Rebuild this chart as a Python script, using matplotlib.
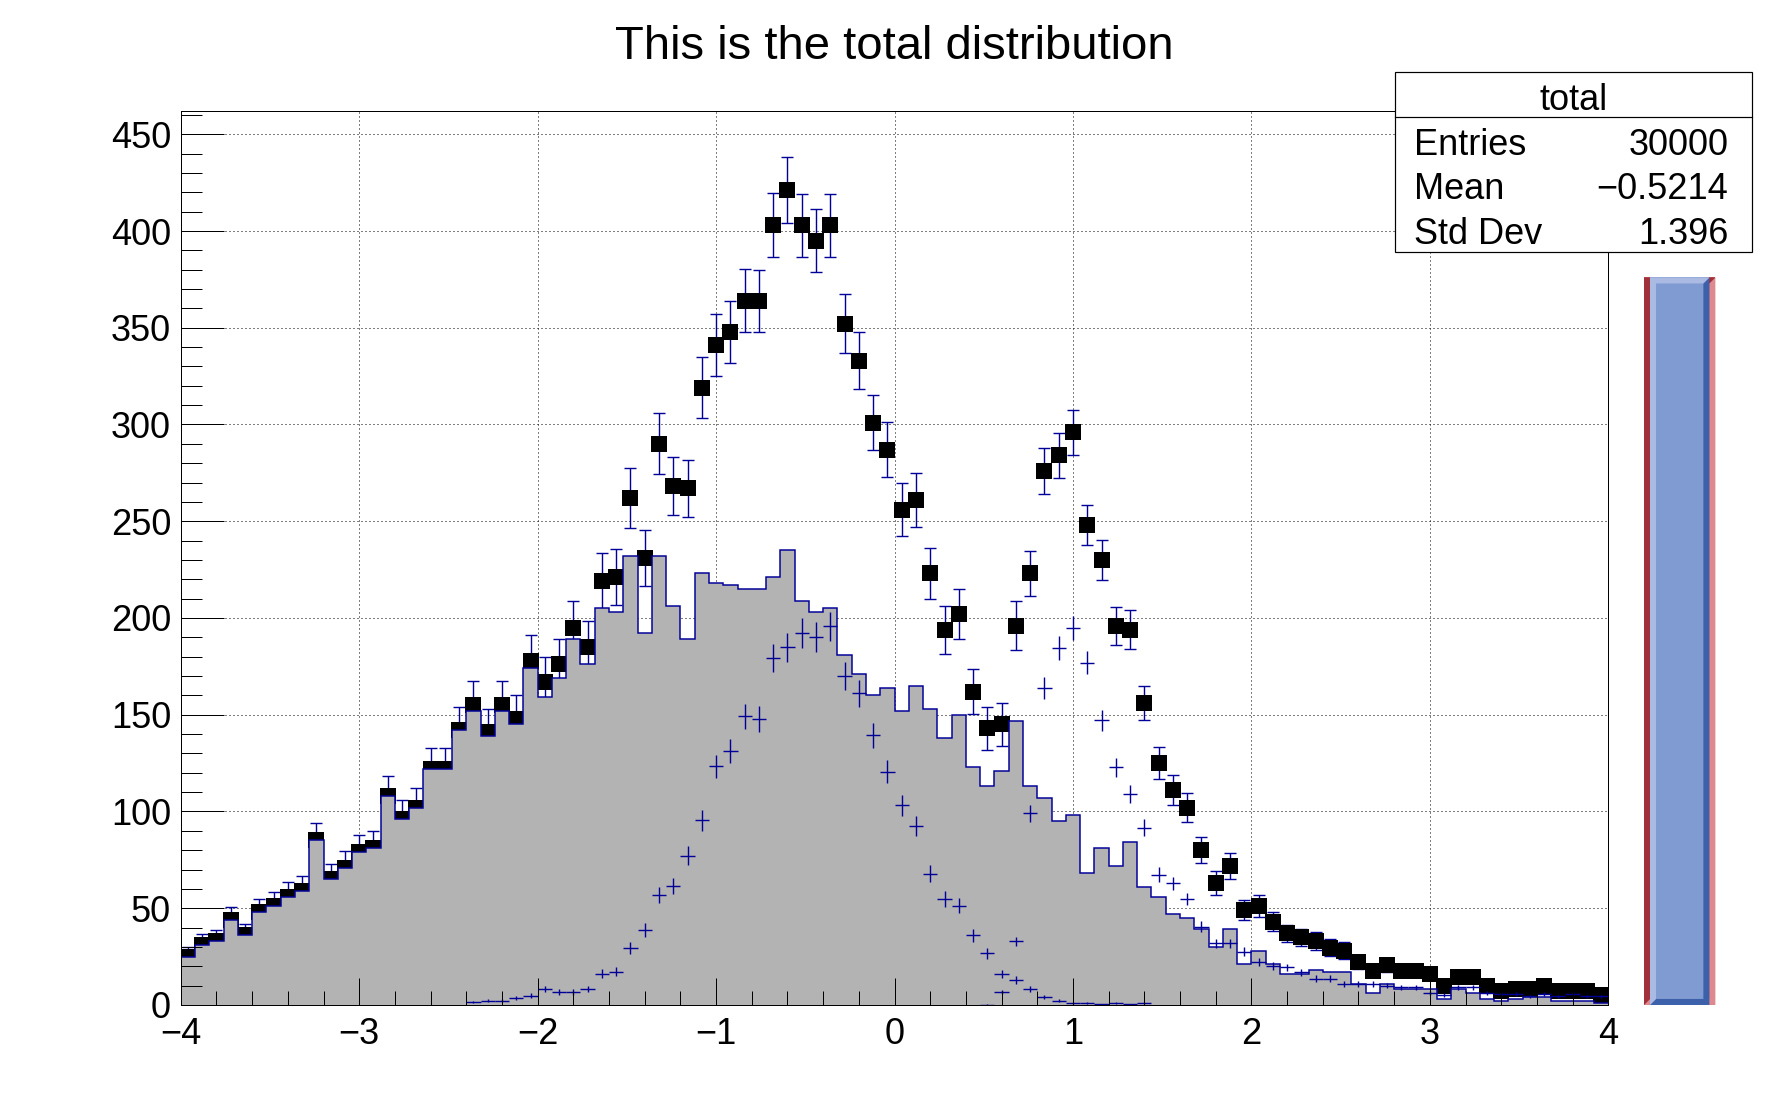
"""
Recreate the ROOT hsum-style figure: total distribution with main/s1/s2 parts.
"""
import numpy as np
import matplotlib.pyplot as plt
from matplotlib.patches import Rectangle, Polygon
from matplotlib.ticker import MultipleLocator

plt.rcParams['font.family'] = ['Liberation Sans', 'DejaVu Sans']

OUT = "out.png"

# histogram definition: 100 bins from -4 to 4
NBINS = 100
XMIN, XMAX = -4.0, 4.0
YMAX = 462

# gray background histogram ("main")
main_counts = [
    25, 31, 33, 44, 36, 48, 51, 56, 59, 85,
    65, 71, 79, 81, 108, 96, 102, 122, 122, 142,
    152, 139, 152, 145, 174, 159, 169, 189, 176, 205,
    203, 232, 192, 232, 206, 189, 223, 218, 217, 215,
    215, 221, 235, 209, 203, 205, 181, 171, 160, 164,
    152, 165, 153, 138, 150, 123, 113, 121, 147, 113,
    107, 95, 98, 68, 81, 72, 84, 61, 56, 47,
    45, 39, 30, 39, 21, 28, 21, 16, 16, 18,
    17, 17, 11, 6, 11, 8, 8, 8, 3, 8,
    6, 3, 2, 3, 4, 4, 2, 2, 2, 1,
]

# gaussian signal (weight 0.3 per entry)
s1_counts = [0] * 20 + [
    1.5, 2.1, 2.1, 3.6, 4.8, 8.1, 6.6, 6.6, 8.1, 16.2,
    17.1, 29.4, 38.7, 57.0, 61.5, 77.1, 95.4, 123.3, 131.1, 149.1,
    147.6, 179.4, 184.8, 192.3, 190.2, 195.6, 170.1, 161.1, 139.5, 120.6,
    103.2, 92.4, 67.8, 54.9, 51.3, 36.0, 26.7, 15.9, 12.9, 8.1,
    4.2, 2.1, 0.9, 0.9, 0.3, 0.9, 0.3, 0.9,
] + [0] * 32

# landau signal (weight 0.2 per entry)
s2_counts = [0] * 56 + [
    0.2, 6.6, 32.8, 99.0,
    164.0, 184.4, 195.0, 176.8, 147.2, 122.8, 108.8, 91.6, 67.4, 62.8,
    54.8, 40.4, 31.8, 31.8, 27.4, 22.4, 20.0, 19.4, 16.8, 13.6,
    13.6, 11.0, 11.0, 11.0, 10.0, 9.2, 9.2, 6.0, 5.0, 9.2,
    9.2, 6.0, 5.6, 5.6, 4.4, 5.6, 4.4, 5.6, 4.4, 4.4,
]

# total histogram (black squares)
total_counts = [
    25, 31, 33, 44, 36, 48, 51, 56, 59, 85,
    65, 71, 79, 81, 108, 96, 102, 122, 122, 142,
    155, 141, 155, 148, 178, 167, 176, 195, 185, 219,
    221, 262, 231, 290, 268, 267, 319, 341, 348, 364,
    364, 403, 421, 403, 395, 403, 352, 333, 301, 287,
    256, 261, 223, 194, 202, 162, 143, 145, 196, 223,
    276, 284, 296, 248, 230, 196, 194, 156, 125, 111,
    102, 80, 63, 72, 49, 51, 43, 37, 35, 33,
    29.5, 28, 22, 17.4, 20.6, 17.4, 17.4, 15.8, 10, 14.4,
    14.4, 10, 7, 8.4, 8.4, 10, 7, 7, 7, 5.2,
]

W1, W2 = 0.3, 0.2  # fill weights of s1 and s2

title = "This is the total distribution"
stats_name = "total"
stats_rows = [("Entries", "30000"), ("Mean", "\u22120.5214"), ("Std Dev", "1.396")]

# slider drawn right of the frame (ROOT TSlider, in pad coordinates)
SLIDER_X = (4.2, 4.6)
SLIDER_TOP = 376

BLUE = "#000099"
GRAY = "#b3b3b3"
PX = 0.72  # one pixel in points at dpi 100


def bevel(ax, x0, x1, y0, y1, bx, by, tl, br, face=None, z=6):
    if face is not None:
        ax.add_patch(Rectangle((x0, y0), x1 - x0, y1 - y0, facecolor=face,
                               edgecolor="none", clip_on=False, zorder=z))
    light = [(x0, y0), (x0, y1), (x1, y1), (x1 - bx, y1 - by),
             (x0 + bx, y1 - by), (x0 + bx, y0 + by)]
    dark = [(x0, y0), (x1, y0), (x1, y1), (x1 - bx, y1 - by),
            (x1 - bx, y0 + by), (x0 + bx, y0 + by)]
    ax.add_patch(Polygon(dark, closed=True, facecolor=br, edgecolor="none",
                         clip_on=False, zorder=z + 0.1))
    ax.add_patch(Polygon(light, closed=True, facecolor=tl, edgecolor="none",
                         clip_on=False, zorder=z + 0.2))


def main():
    edges = np.linspace(XMIN, XMAX, NBINS + 1)
    centers = 0.5 * (edges[:-1] + edges[1:])
    half = 0.5 * (edges[1] - edges[0])

    m = np.array(main_counts, float)
    s1 = np.array(s1_counts, float)
    s2 = np.array(s2_counts, float)
    tot = np.array(total_counts, float)
    # sqrt(sum of w^2) errors as ROOT stores them
    tot_err = np.sqrt(m + W1 * s1 + W2 * s2)
    s1_err = np.sqrt(W1 * s1)
    s2_err = np.sqrt(W2 * s2)

    fig = plt.figure(figsize=(17.88, 11.16), dpi=100)
    ax = fig.add_axes([0.1011, 0.0995, 0.7984, 0.801])
    ax.set_xlim(XMIN, XMAX)
    ax.set_ylim(0, YMAX)

    # grid under everything
    for xv in range(-3, 4):
        ax.axvline(xv, color="black", lw=PX, ls=(0, (1, 3)), zorder=0.5)
    for yv in range(50, 451, 50):
        ax.axhline(yv, color="black", lw=PX, ls=(0, (1, 3)), zorder=0.5)

    # total with e1p
    ax.errorbar(centers, tot, yerr=tot_err, fmt="none", ecolor=BLUE,
                elinewidth=1.4 * PX, capsize=4.6, capthick=1.4 * PX, zorder=2)
    ax.plot(centers, tot, "s", color="black", ms=12, mew=0, zorder=2.1)

    # main drawn "same" on top
    ax.stairs(m, edges, fill=True, color=GRAY, lw=0, zorder=3)
    ax.stairs(m, edges, baseline=None, color=BLUE, lw=1.5 * PX, zorder=3.1)

    # s1 and s2 as crosses
    for vals, errs in ((s1, s1_err), (s2, s2_err)):
        keep = vals > 0
        ax.errorbar(centers[keep], vals[keep], xerr=half, yerr=errs[keep],
                    fmt="none", ecolor=BLUE, elinewidth=1.4 * PX, capsize=0,
                    zorder=4)

    # axes styling
    ax.xaxis.set_major_locator(MultipleLocator(1))
    ax.xaxis.set_minor_locator(MultipleLocator(0.2))
    ax.yaxis.set_major_locator(MultipleLocator(50))
    ax.yaxis.set_minor_locator(MultipleLocator(10))
    ax.tick_params(axis="both", which="both", direction="in", width=PX,
                   top=False, right=False, labelsize=26)
    ax.tick_params(axis="y", which="major", length=31, pad=7)
    ax.tick_params(axis="y", which="minor", length=15)
    ax.tick_params(axis="x", which="major", length=19.5, pad=9)
    ax.tick_params(axis="x", which="minor", length=10)
    for sp in ax.spines.values():
        sp.set_linewidth(PX)
        sp.set_zorder(10)
    ax.xaxis.set_zorder(10)
    ax.yaxis.set_zorder(10)

    fig.text(0.5003, 0.947, title, ha="center", va="baseline", fontsize=34)

    # stats box
    bx0, bx1, by0, by1 = 0.780, 0.980, 0.7742, 0.9355
    fig.patches.append(Rectangle((bx0, by0), bx1 - bx0, by1 - by0,
                                 transform=fig.transFigure, facecolor="white",
                                 edgecolor="black", lw=1.2 * PX, zorder=20))
    fig.lines.append(plt.Line2D([bx0, bx1], [0.8952, 0.8952],
                                transform=fig.transFigure, color="black",
                                lw=1.2 * PX, zorder=21))
    fig.text(0.880, 0.9014, stats_name, ha="center", va="baseline",
             fontsize=26, zorder=22)
    for (lab, val), yb in zip(stats_rows, (0.8611, 0.8214, 0.7811)):
        fig.text(0.7908, yb, lab, ha="left", va="baseline", fontsize=26,
                 zorder=22)
        fig.text(0.9666, yb, val, ha="right", va="baseline", fontsize=26,
                 zorder=22)

    # slider: sunken red pad with a raised blue box inside
    px_x = (XMAX - XMIN) / (0.7984 * 1788)
    px_y = YMAX / (0.801 * 1116)
    sx0, sx1 = SLIDER_X
    bevel(ax, sx0, sx1, 0, SLIDER_TOP, 6 * px_x, 6 * px_y,
          tl="#a0303a", br="#de8890", face="#cf5e61", z=6)
    bevel(ax, sx0 + 6 * px_x, sx1 - 6 * px_x, 0, SLIDER_TOP,
          6 * px_x, 6 * px_y, tl="#aabae2", br="#3c60aa", face="#7f9bd1", z=7)

    fig.savefig(OUT, dpi=100)
    plt.close(fig)
    print(f"Wrote {OUT}")


if __name__ == "__main__":
    main()
